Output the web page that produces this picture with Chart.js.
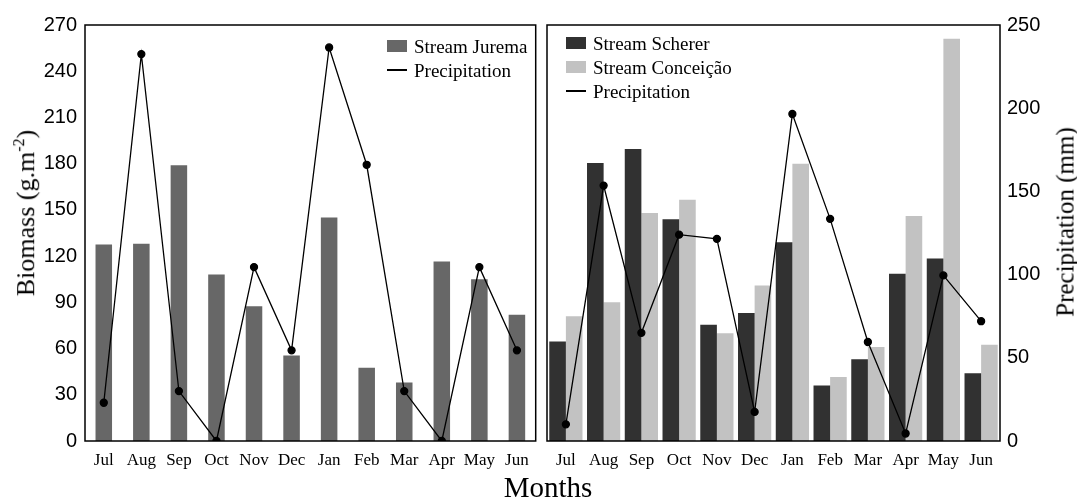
<!DOCTYPE html>
<html>
<head>
<meta charset="utf-8">
<script src="https://cdn.jsdelivr.net/npm/chart.js@4/dist/chart.umd.min.js"></script>
<style>
  body { margin: 0; background: #fff; }
  #wrap { position: relative; width: 1077px; height: 498px; font-family: 'Liberation Serif', serif; color: #000; }
  .panel { position: absolute; top: 0; height: 498px; }
  .title { position: absolute; white-space: nowrap; line-height: 1; }
  .legend { position: absolute; font-size: 19px; line-height: 1; }
  .legend div { display: flex; align-items: center; height: 24px; }
  .legend i { display: inline-block; width: 20px; margin-right: 7px; }
</style>
</head>
<body>
<div id="wrap">
  <div class="panel" style="left:0;width:541px"><canvas id="left"></canvas></div>
  <div class="panel" style="left:541px;width:536px"><canvas id="right"></canvas></div>
  <div class="legend" id="legendLeft" style="left:387px;top:34px"></div>
  <div class="legend" id="legendRight" style="left:566px;top:31px"></div>
  <div class="title" style="left:25px;top:213px;font-size:26px;transform:translate(-50%,-50%) rotate(-90deg)">Biomass (g.m<sup style="font-size:16px">-2</sup>)</div>
  <div class="title" style="left:1065px;top:222px;font-size:25px;transform:translate(-50%,-50%) rotate(-90deg)">Precipitation (mm)</div>
  <div class="title" style="left:548px;top:487px;font-size:29px;transform:translate(-50%,-50%)">Months</div>
</div>
<script>
const months = ['Jul', 'Aug', 'Sep', 'Oct', 'Nov', 'Dec', 'Jan', 'Feb', 'Mar', 'Apr', 'May', 'Jun']

// biomass (g.m-2)
const jurema = [127.5, 128, 179, 108, 87.5, 55.5, 145, 47.5, 38, 116.5, 105, 82]
const scherer = [64.5, 180.5, 189.5, 144, 75.5, 83, 129, 36, 53, 108.5, 118.5, 44]
const conceicao = [81, 90, 148, 156.5, 70, 101, 180, 41.5, 61, 146, 261, 62.5]

// precipitation (mm)
const precipLeft = [23, 232.5, 30, 0, 104.5, 54.5, 236.5, 166, 30, 0, 104.5, 54.5]
const precipRight = [10, 153.5, 65, 124, 121.5, 17.5, 196.5, 133.5, 59.5, 4.5, 99.5, 72]

const biomassTicks = { min: 0, max: 270, step: 30 }
const precipTicks = { min: 0, max: 250, step: 50 }

const colors = {
  jurema: '#676767',
  scherer: '#313131',
  conceicao: '#c2c2c2',
  line: '#000',
}

const tickFont = { family: "'Liberation Sans', sans-serif", size: 20 }
const monthFont = { family: "'Liberation Serif', serif", size: 17 }

const frame = {
  id: 'frame',
  afterDraw(chart) {
    const { ctx, chartArea: a } = chart
    ctx.save()
    ctx.strokeStyle = '#000'
    ctx.lineWidth = 1.5
    ctx.strokeRect(a.left, a.top, a.right - a.left, a.bottom - a.top)
    ctx.restore()
  },
}

function precipDataset(data) {
  return {
    type: 'line',
    label: 'Precipitation',
    data,
    yAxisID: 'yp',
    borderColor: colors.line,
    backgroundColor: colors.line,
    borderWidth: 1.3,
    pointRadius: 3.5,
    pointBackgroundColor: colors.line,
    tension: 0,
    order: 0,
  }
}

function xAxis() {
  return {
    grid: { display: false, drawTicks: false },
    border: { display: false },
    ticks: { color: '#000', font: monthFont, padding: 9, maxRotation: 0, autoSkip: false },
    afterFit(scale) { scale.height = 57 },
  }
}

function buildLegend(id, items) {
  const el = document.getElementById(id)
  items.forEach(item => {
    const row = document.createElement('div')
    const swatch = document.createElement('i')
    if (item.line) {
      swatch.style.height = '1.5px'
      swatch.style.background = item.color
    } else {
      swatch.style.height = '12px'
      swatch.style.background = item.color
    }
    row.appendChild(swatch)
    row.appendChild(document.createTextNode(item.label))
    el.appendChild(row)
  })
}

const base = {
  responsive: true,
  maintainAspectRatio: false,
  animation: false,
  plugins: { legend: { display: false }, tooltip: { enabled: false } },
}

new Chart(document.getElementById('left'), {
  type: 'bar',
  data: {
    labels: months,
    datasets: [
      precipDataset(precipLeft),
      {
        label: 'Stream Jurema',
        data: jurema,
        backgroundColor: colors.jurema,
        barPercentage: 0.44,
        categoryPercentage: 1,
        order: 1,
      },
    ],
  },
  options: Object.assign({}, base, {
    layout: { padding: { top: 25, right: 2, left: 0, bottom: 0 } },
    scales: {
      x: xAxis(),
      y: {
        min: biomassTicks.min,
        max: biomassTicks.max,
        grid: { display: false, drawTicks: false },
        border: { display: false },
        ticks: { stepSize: biomassTicks.step, color: '#000', font: tickFont, padding: 8 },
        afterFit(scale) { scale.width = 85 },
      },
      yp: { display: false, min: precipTicks.min, max: precipTicks.max },
    },
  }),
  plugins: [frame],
})

new Chart(document.getElementById('right'), {
  type: 'bar',
  data: {
    labels: months,
    datasets: [
      precipDataset(precipRight),
      {
        label: 'Stream Scherer',
        data: scherer,
        backgroundColor: colors.scherer,
        barPercentage: 1,
        categoryPercentage: 0.88,
        order: 1,
      },
      {
        label: 'Stream Conceição',
        data: conceicao,
        backgroundColor: colors.conceicao,
        barPercentage: 1,
        categoryPercentage: 0.88,
        order: 1,
      },
    ],
  },
  options: Object.assign({}, base, {
    layout: { padding: { top: 25, right: 0, left: 6, bottom: 0 } },
    scales: {
      x: xAxis(),
      y: { display: false, min: biomassTicks.min, max: biomassTicks.max },
      yp: {
        position: 'right',
        min: precipTicks.min,
        max: precipTicks.max,
        grid: { display: false, drawTicks: false },
        border: { display: false },
        ticks: { stepSize: precipTicks.step, color: '#000', font: tickFont, padding: 7 },
        afterFit(scale) { scale.width = 77 },
      },
    },
  }),
  plugins: [frame],
})

buildLegend('legendLeft', [
  { label: 'Stream Jurema', color: colors.jurema },
  { label: 'Precipitation', color: colors.line, line: true },
])
buildLegend('legendRight', [
  { label: 'Stream Scherer', color: colors.scherer },
  { label: 'Stream Conceição', color: colors.conceicao },
  { label: 'Precipitation', color: colors.line, line: true },
])
</script>
</body>
</html>
